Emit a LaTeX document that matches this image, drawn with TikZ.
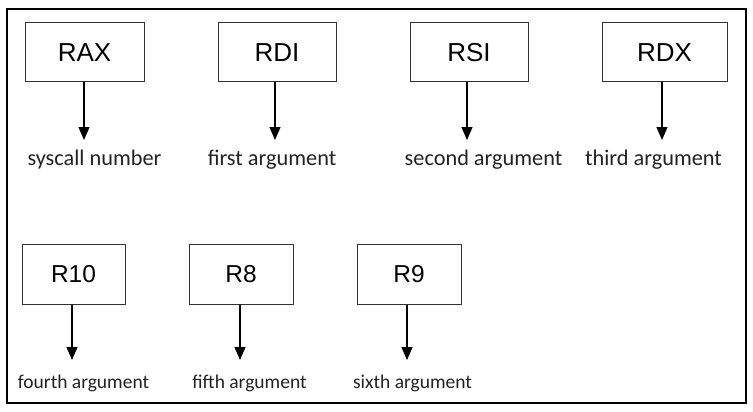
\documentclass[tikz,border=0pt]{standalone}
\usepackage{fontspec}
\setmainfont{Liberation Sans}
\newfontfamily\labfont{Carlito}
\usetikzlibrary{arrows.meta}
\definecolor{boxline}{HTML}{333333}
\definecolor{labtext}{HTML}{222222}
\tikzset{
  reg/.style={draw=boxline, line width=1pt, minimum height=59pt, inner sep=0pt, font=\fontsize{26}{30}\selectfont},
  regb/.style={reg, minimum height=60pt, font=\fontsize{24.5}{28}\selectfont},
  lab/.style={inner sep=0pt, text=labtext, font=\labfont\fontsize{22.3}{26}\selectfont},
  labb/.style={lab, font=\labfont\fontsize{19.5}{23}\selectfont},
  arr/.style={line width=1.2pt, -{Triangle[width=11pt,length=13pt]}},
  frame/.style={draw=black, line width=2pt}
}
\begin{document}
\begin{tikzpicture}[x=1pt,y=-1pt]
\useasboundingbox (0,0) rectangle (753,412);
\node[frame, minimum width=739pt, minimum height=394pt, inner sep=0pt] (fr) at (376.5,206) {};
% row 1
\node[reg, minimum width=119pt] (rax) at (84.5,52.5) {RAX};
\node[reg, minimum width=118pt] (rdi) at (277,52.5) {RDI};
\node[reg, minimum width=118pt] (rsi) at (469,52.5) {RSI};
\node[reg, minimum width=125pt] (rdx) at (664.5,52.5) {RDX};
\node[lab] (l1) at (94.5,160) {syscall number};
\node[lab] (l2) at (272,160) {first argument};
\node[lab] (l3) at (483.5,160) {second argument};
\node[lab] (l4) at (653.5,160) {third argument};
\coordinate (t1) at (84,140);
\coordinate (t2) at (275,140);
\coordinate (t3) at (467,140);
\coordinate (t4) at (662,140);
\draw[arr] (rax.south -| t1) -- (t1);
\draw[arr] (rdi.south -| t2) -- (t2);
\draw[arr] (rsi.south -| t3) -- (t3);
\draw[arr] (rdx.south -| t4) -- (t4);
% row 2
\node[regb, minimum width=103pt] (r10) at (73.5,274) {R10};
\node[regb, minimum width=104pt] (r8) at (241,274) {R8};
\node[regb, minimum width=104pt] (r9) at (409,274) {R9};
\node[labb] (l5) at (83.5,383) {fourth argument};
\node[labb] (l6) at (249.5,383) {fifth argument};
\node[labb] (l7) at (412.5,383) {sixth argument};
\coordinate (t5) at (72,360);
\coordinate (t6) at (240,360);
\coordinate (t7) at (407,360);
\draw[arr] (r10.south -| t5) -- (t5);
\draw[arr] (r8.south -| t6) -- (t6);
\draw[arr] (r9.south -| t7) -- (t7);
\end{tikzpicture}
\end{document}
